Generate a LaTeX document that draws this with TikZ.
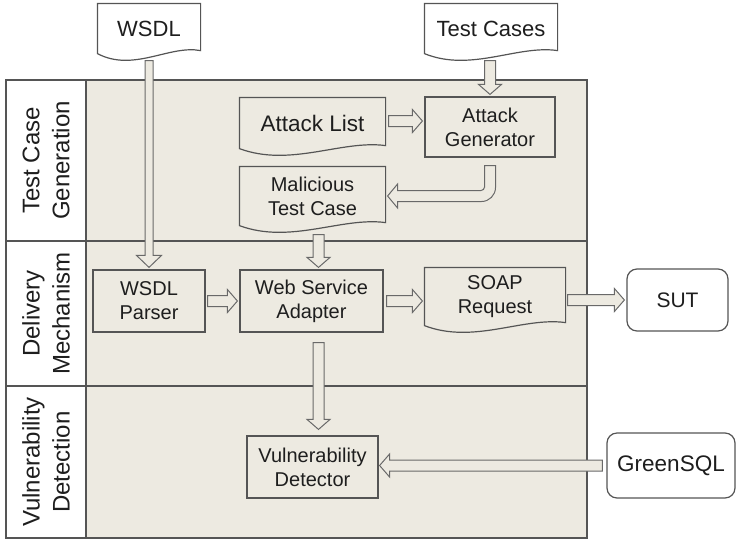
\documentclass[tikz,border=0pt]{standalone}
\usepackage{fontspec}
\setmainfont{Liberation Sans}
\usetikzlibrary{calc,backgrounds}

\definecolor{boxfill}{RGB}{237,234,225}
\definecolor{boxline}{RGB}{85,85,85}
\definecolor{arrowline}{RGB}{105,105,105}
\definecolor{textc}{RGB}{30,30,30}

\tikzset{
  fatshaft/.store in=\fatshaft, fatshaft=5.5pt,
  fathead/.store in=\fathead, fathead=11.5pt,
  fatlen/.store in=\fatlen, fatlen=10pt,
  fat/.style={draw=arrowline, fill=boxfill, line width=1pt, line join=miter},
  box/.style={draw=boxline, fill=boxfill, line width=1.2pt, align=center, text=textc,
    font=\fontsize{20}{24}\selectfont, inner sep=0pt},
  doc/.style={box, draw=none, fill=none},
  docline/.style={draw=boxline, line width=1.2pt},
  ext/.style={box, fill=white, rounded corners=10pt},
  lane/.style={draw=boxline, line width=1.4pt},
  lanelabel/.style={rotate=90, align=center, text=textc, font=\fontsize{24}{30}\selectfont},
}

% fat arrow between two points
\newcommand{\fatarrow}[3][]{%
  \filldraw[fat,#1] let \p1=#2, \p2=#3, \n1={atan2(\y2-\y1,\x2-\x1)} in
    ($(\p1)+({\n1+90}:\fatshaft)$)
    -- ($(\p2)+({\n1+180}:\fatlen)+({\n1+90}:\fatshaft)$)
    -- ($(\p2)+({\n1+180}:\fatlen)+({\n1+90}:\fathead)$)
    -- (\p2)
    -- ($(\p2)+({\n1+180}:\fatlen)+({\n1-90}:\fathead)$)
    -- ($(\p2)+({\n1+180}:\fatlen)+({\n1-90}:\fatshaft)$)
    -- ($(\p1)+({\n1-90}:\fatshaft)$) -- cycle;}

\begin{document}
\begin{tikzpicture}[x=1pt,y=-1pt]
    \useasboundingbox (0,0) rectangle (737,542);

    % Draw lanes
    \begin{scope}[on background layer]
        \foreach \ya/\yb in {80/241,241/386,386/538} {
            \filldraw[lane, fill=boxfill] (86,\ya) rectangle (587,\yb);
            \filldraw[lane, fill=white] (6,\ya) rectangle (86,\yb);
        }
    \end{scope}

    \node[lanelabel] (gen) at (46,160.5) {Test Case\\Generation};
    \node[lanelabel] (del) at (46,313.5) {Delivery\\Mechanism};
    \node[lanelabel] (det) at (46,462) {Vulnerability\\Detection};

    % Define the blocks
    \node[doc, minimum width=102pt, minimum height=49pt, font=\fontsize{22}{26}\selectfont] (wsdl) at (149,28.5) {WSDL};
    \node[doc, minimum width=132pt, minimum height=49pt, font=\fontsize{22}{26}\selectfont] (tc) at (491,28.5) {Test Cases};
    \node[doc, minimum width=145pt, minimum height=50pt, font=\fontsize{22.5}{26}\selectfont] (al) at (312.5,123) {Attack List};
    \node[box, minimum width=130pt, minimum height=60pt] (ag) at (490,127) {Attack\\Generator};
    \node[doc, minimum width=145pt, minimum height=58pt] (mtc) at (312.5,196) {Malicious\\Test Case};

    \node[box, minimum width=112pt, minimum height=62pt] (wsdlp) at (149,301) {WSDL\\Parser};
    \node[box, minimum width=143pt, minimum height=62pt] (wsa) at (311.5,301) {Web Service\\Adapter};
    \node[doc, minimum width=140pt, minimum height=57pt] (soap) at (495,296.5) {SOAP\\Request};
    \node[ext, minimum width=101pt, minimum height=62pt, font=\fontsize{21}{25}\selectfont] (sut) at (677.5,300) {SUT};

    \node[box, minimum width=131pt, minimum height=62pt] (vd) at (312.5,467) {Vulnerability\\Detector};
    \node[ext, minimum width=128pt, minimum height=65pt, font=\fontsize{22.5}{26}\selectfont] (gsql) at (671,465.5) {GreenSQL};

    % Draw document outlines
    \begin{scope}[on background layer]
        \foreach \d/\f in {wsdl/white,tc/white,al/boxfill,mtc/boxfill,soap/boxfill}
            \filldraw[docline, fill=\f] let \p1=(\d.south west), \p2=(\d.north east) in
                (\p1) -- (\x1,\y2) -- (\p2) -- (\x2,\y1+3pt)
                .. controls ({\x1+0.7*(\x2-\x1)},\y1+9pt) and ({\x1+0.35*(\x2-\x1)},\y1-19pt) .. (\p1) -- cycle;
    \end{scope}

    % Draw arrows
    \fatarrow[fatshaft=4pt,fathead=12.5pt,fatlen=12pt]{([yshift=-7pt]wsdl.south)}{([yshift=2pt]wsdlp.north)}
    \fatarrow{([xshift=-1pt,yshift=-7pt]tc.south)}{([yshift=2pt]ag.north)}
    \fatarrow{([xshift=3pt,yshift=2pt]al.east)}{([xshift=-2pt,yshift=6pt]ag.west)}
    \filldraw[fat] let \p1=([yshift=-8pt]ag.south), \p2=([xshift=2pt]mtc.east) in
        (\x1-5.5pt,\y1) -- (\x1+5.5pt,\y1) -- (\x1+5.5pt,\y2+12pt)
        [rounded corners=14pt] -- (\x1+5.5pt,\y2-5.5pt) -- (\x2+40pt,\y2-5.5pt)
        [sharp corners] -- (\x2+10pt,\y2-5.5pt) -- (\x2+10pt,\y2-12pt) -- (\p2)
        -- (\x2+10pt,\y2+12pt) -- (\x2+10pt,\y2+5.5pt) -- (\x2+40pt,\y2+5.5pt)
        [rounded corners=3.5pt] -- (\x1-5.5pt,\y2+5.5pt) -- (\x1-5.5pt,\y2+12pt)
        [sharp corners] -- cycle;
    \fatarrow{([xshift=6pt,yshift=-9pt]mtc.south)}{([xshift=7pt,yshift=2pt]wsa.north)}
    \fatarrow{([xshift=2pt]wsdlp.east)}{([xshift=-2pt]wsa.west)}
    \fatarrow{([xshift=3pt]wsa.east)}{([xshift=-2pt,yshift=-4.5pt]soap.west)}
    \fatarrow{([xshift=2pt,yshift=-3.5pt]soap.east)}{([xshift=-2pt]sut.west)}
    \fatarrow{([xshift=7pt,yshift=-10pt]wsa.south)}{([xshift=6pt,yshift=6pt]vd.north)}
    \fatarrow{([xshift=-4pt]gsql.west)}{([xshift=1pt,yshift=1.5pt]vd.east)}
\end{tikzpicture}
\end{document}
